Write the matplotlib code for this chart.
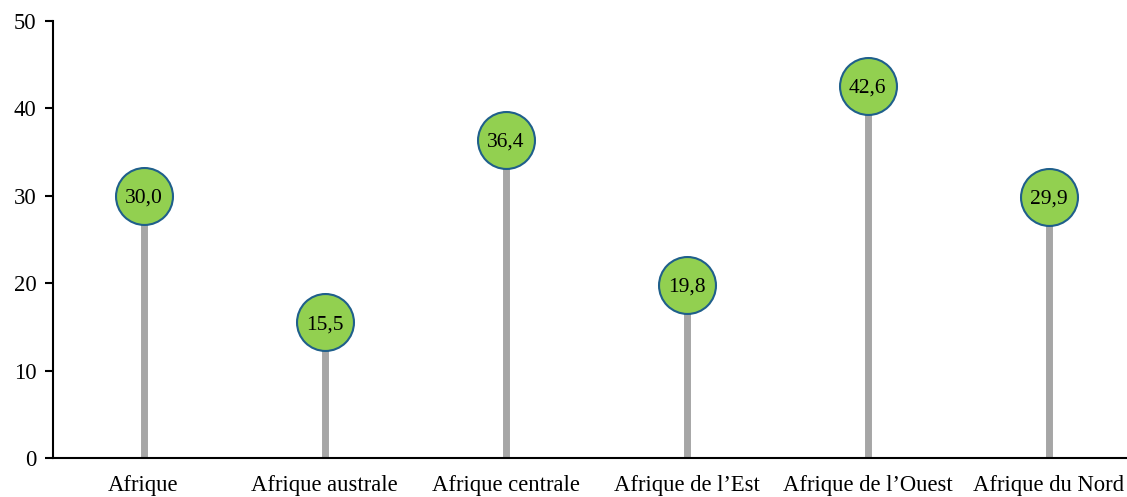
import matplotlib.pyplot as plt

regions = ['Afrique', 'Afrique australe', 'Afrique centrale', "Afrique de l\u2019Est",
           "Afrique de l\u2019Ouest", 'Afrique du Nord']
values = [30.0, 15.5, 36.4, 19.8, 42.6, 29.9]

plt.rcParams['font.family'] = ['Liberation Serif', 'DejaVu Serif']

fig = plt.figure(figsize=(11.27, 4.97), dpi=100)
ax = fig.add_axes([0.047, 0.0785, 0.964, 0.8795])

x = list(range(len(values)))
ax.vlines(x, 0, values, color='#a6a6a6', linewidth=5, zorder=2)
ax.plot(x, values, 'o', markersize=41, markerfacecolor='#92d050',
        markeredgecolor='#1f5f8b', markeredgewidth=1.5, zorder=3)
for xi, v in zip(x, values):
    ax.text(xi, v, f'{v:.1f}'.replace('.', ','), ha='center', va='center_baseline',
            fontsize=15.5, zorder=4)

ax.set_xlim(-0.5, 5.5)
ax.set_ylim(0, 50)
ax.set_yticks(range(0, 51, 10))
ax.set_xticks(x)
ax.set_xticklabels(regions)
ax.tick_params(axis='x', length=0, labelsize=16.3, pad=12)
ax.tick_params(axis='y', length=6, width=1.5, labelsize=16.3, pad=6)
for s in ['top', 'right']:
    ax.spines[s].set_visible(False)
ax.spines['left'].set_linewidth(1.5)
ax.spines['bottom'].set_linewidth(1.5)

fig.savefig('out.png', dpi=100)
